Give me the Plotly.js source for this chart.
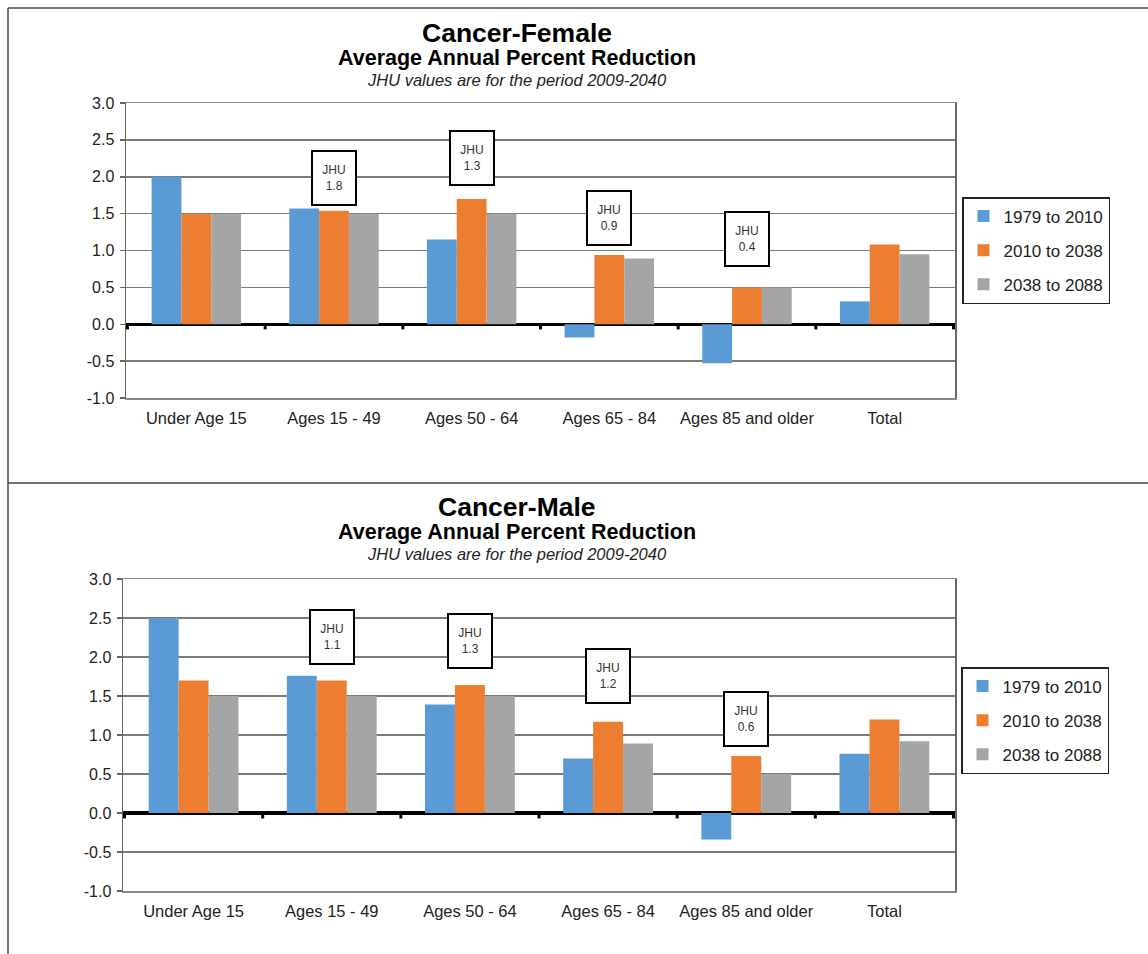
<!DOCTYPE html>
<html>
<head>
<meta charset="utf-8">
<script src="https://cdn.plot.ly/plotly-3.0.1.min.js"></script>
<style>
  html, body { margin: 0; padding: 0; background: #fff; }
  #chart { width: 1148px; height: 954px; }
</style>
</head>
<body>
<div id="chart"></div>
<script>
// ---- Data ----
const categories = ["Under Age 15", "Ages 15 - 49", "Ages 50 - 64", "Ages 65 - 84", "Ages 85 and older", "Total"];
const seriesNames = ["1979 to 2010", "2010 to 2038", "2038 to 2088"];

const female1979to2010 = [2.0, 1.57, 1.15, -0.18, -0.53, 0.31];
const female2010to2038 = [1.5, 1.54, 1.70, 0.94, 0.50, 1.08];
const female2038to2088 = [1.5, 1.50, 1.50, 0.89, 0.50, 0.95];
const femaleJHU = [null, 1.8, 1.3, 0.9, 0.4, null];

const male1979to2010 = [2.5, 1.76, 1.39, 0.70, -0.34, 0.76];
const male2010to2038 = [1.7, 1.70, 1.64, 1.17, 0.73, 1.20];
const male2038to2088 = [1.5, 1.50, 1.50, 0.89, 0.50, 0.92];
const maleJHU = [null, 1.1, 1.3, 1.2, 0.6, null];

const yTickVals = [-1.0, -0.5, 0.0, 0.5, 1.0, 1.5, 2.0, 2.5, 3.0];
const yTickText = ["-1.0", "-0.5", "0.0", "0.5", "1.0", "1.5", "2.0", "2.5", "3.0"];

// ---- Layout helpers (positions/styles) ----
const femaleBoxY = [null, 1.98, 2.26, 1.44, 1.15, null];
const maleBoxY = [null, 2.26, 2.21, 1.76, 1.21, null];

const colors = ["#5B9BD5", "#ED7D31", "#A5A5A5"];
const FONT = "Liberation Sans, Arial, sans-serif";
const H = 954, W = 1148;
const py = v => 1 - v / H;
const px = v => v / W;

const traces = [];
function addSeries(valsList, xa, ya, legendName) {
  valsList.forEach((vals, i) => {
    traces.push({
      type: "bar",
      x: categories,
      y: vals,
      name: seriesNames[i],
      marker: { color: colors[i] },
      xaxis: xa, yaxis: ya,
      legend: legendName,
      legendgroup: legendName + "_" + i,
      hoverinfo: "x+y+name"
    });
  });
}
addSeries([female1979to2010, female2010to2038, female2038to2088], "x", "y", "legend");
addSeries([male1979to2010, male2010to2038, male2038to2088], "x2", "y2", "legend2");

function xAxis(domain, anchor) {
  return {
    domain: domain, anchor: anchor,
    type: "category",
    showline: true, linecolor: "#888888", linewidth: 1.5, mirror: true,
    showgrid: false, ticks: "",
    ticklabelstandoff: 5,
    tickfont: { family: FONT, size: 16.5, color: "#222" },
    fixedrange: true
  };
}
function yAxis(domain, anchor) {
  return {
    domain: domain, anchor: anchor,
    range: [-1.0, 3.0],
    tickvals: yTickVals, ticktext: yTickText,
    showline: true, linecolor: "#666666", linewidth: 1.5, mirror: true,
    ticks: "outside", ticklen: 5, tickcolor: "#666666", tickwidth: 1.5,
    ticklabelstandoff: 2,
    showgrid: true, gridcolor: "#7a7a7a", gridwidth: 1.5,
    zeroline: true, zerolinecolor: "#000000", zerolinewidth: 3.5,
    tickfont: { family: FONT, size: 16, color: "#222" },
    fixedrange: true
  };
}

const annotations = [];
function titles(yTitle, ySub, yItal, main) {
  annotations.push({ xref: "paper", yref: "paper", x: px(517), y: py(yTitle), text: "<b>" + main + "</b>",
    showarrow: false, xanchor: "center", yanchor: "middle", font: { family: FONT, size: 26.5, color: "#000" } });
  annotations.push({ xref: "paper", yref: "paper", x: px(517), y: py(ySub), text: "<b>Average Annual Percent Reduction</b>",
    showarrow: false, xanchor: "center", yanchor: "middle", font: { family: FONT, size: 21.5, color: "#000" } });
  annotations.push({ xref: "paper", yref: "paper", x: px(517), y: py(yItal), text: "<i>JHU values are for the period 2009-2040</i>",
    showarrow: false, xanchor: "center", yanchor: "middle", font: { family: FONT, size: 16.5, color: "#222" } });
}
titles(33, 58, 80, "Cancer-Female");
titles(507, 532, 554, "Cancer-Male");

function jhuBoxes(vals, boxY, xa, ya) {
  vals.forEach((v, i) => {
    if (v === null) return;
    annotations.push({
      xref: xa, yref: ya, x: categories[i], y: boxY[i],
      text: "JHU<br>" + v.toFixed(1), showarrow: false,
      xanchor: "center", yanchor: "middle",
      width: 38, height: 48, borderpad: 2,
      bordercolor: "#000", borderwidth: 2, bgcolor: "#fff",
      font: { family: FONT, size: 12, color: "#333" }
    });
  });
}
jhuBoxes(femaleJHU, femaleBoxY, "x", "y");
jhuBoxes(maleJHU, maleBoxY, "x2", "y2");

// frame lines and small boundary ticks on zero line
const shapes = [
  { type: "line", xref: "paper", yref: "paper", x0: px(8), x1: 1, y0: py(8), y1: py(8), line: { color: "#444", width: 1.5 } },
  { type: "line", xref: "paper", yref: "paper", x0: px(8), x1: px(8), y0: py(8), y1: 0, line: { color: "#444", width: 1.5 } },
  { type: "line", xref: "paper", yref: "paper", x0: px(8), x1: 1, y0: py(483), y1: py(483), line: { color: "#444", width: 1.5 } }
];
[["x", "y"], ["x2", "y2"]].forEach(([xa, ya]) => {
  for (let i = 0; i <= categories.length; i++) {
    shapes.push({ type: "line", xref: xa, yref: ya, x0: i - 0.5, x1: i - 0.5, y0: 0, y1: -0.07,
      line: { color: "#000", width: 3 } });
  }
});

const legendBase = {
  xanchor: "left", yanchor: "top",
  bordercolor: "#222", borderwidth: 1.5, bgcolor: "#fff",
  font: { family: FONT, size: 17, color: "#222" },
  traceorder: "grouped", tracegroupgap: 9,
  itemwidth: 30
};

const layout = {
  width: W, height: H,
  margin: { l: 0, r: 0, t: 0, b: 0 },
  paper_bgcolor: "#fff", plot_bgcolor: "#fff",
  showlegend: true,
  barmode: "group", bargap: 0.35, bargroupgap: 0,
  xaxis: xAxis([px(126), px(955)], "y"),
  yaxis: yAxis([py(398), py(103)], "x"),
  xaxis2: xAxis([px(123), px(955)], "y2"),
  yaxis2: yAxis([py(891), py(579)], "x2"),
  legend: Object.assign({}, legendBase, { x: px(962), y: py(197) }),
  legend2: Object.assign({}, legendBase, { x: px(961), y: py(667) }),
  annotations: annotations,
  shapes: shapes
};

Plotly.newPlot("chart", traces, layout, { displayModeBar: false, staticPlot: true });
</script>
</body>
</html>
